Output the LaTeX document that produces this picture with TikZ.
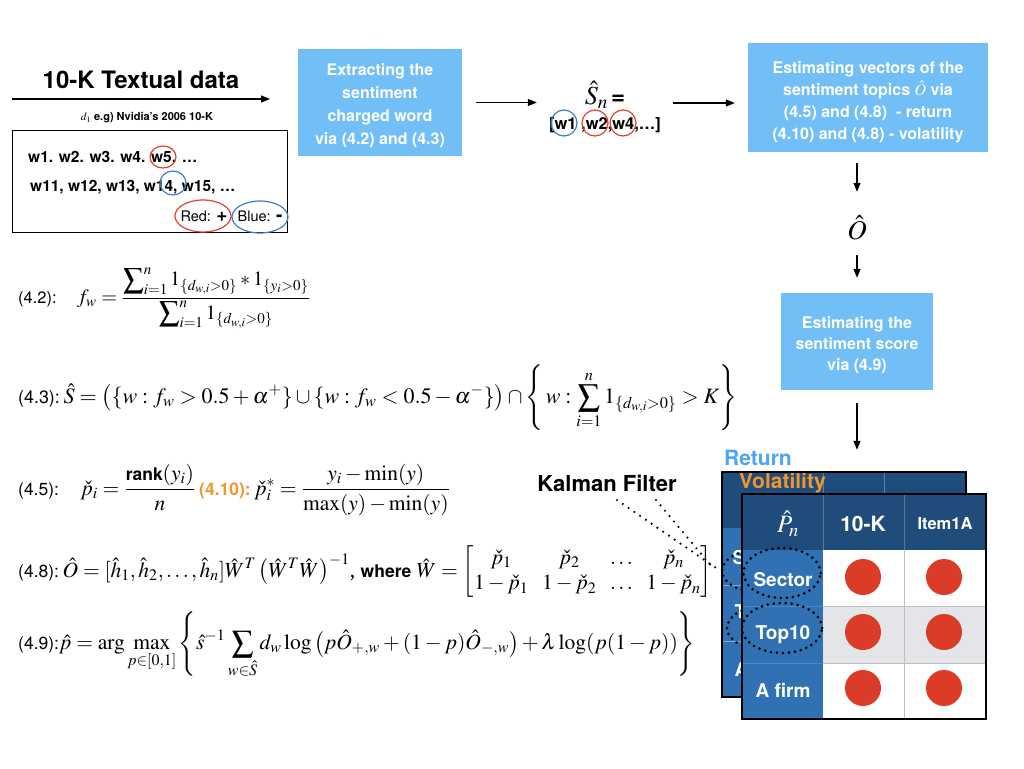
\documentclass[tikz,border=0pt]{standalone}
\usepackage{amsmath}
\usepackage{mathptmx}
\usepackage[no-math]{fontspec}
\setmainfont{Liberation Serif}
\setsansfont{TeX Gyre Heros}
\usetikzlibrary{arrows.meta,shapes.geometric}
\definecolor{boxblue}{RGB}{114,190,247}
\definecolor{navy}{RGB}{31,76,122}
\definecolor{midblue}{RGB}{47,113,178}
\definecolor{rowgray}{RGB}{228,229,233}
\definecolor{dotred}{RGB}{219,60,40}
\definecolor{cred}{RGB}{224,64,48}
\definecolor{cblue}{RGB}{58,124,196}
\definecolor{orng}{RGB}{240,150,46}
\definecolor{retblue}{RGB}{80,164,245}
\tikzset{
  arr/.style={-{Triangle[length=9pt,width=7pt]}, line width=1.2pt},
  sbox/.style={fill=boxblue, inner sep=0pt},
  btext/.style={text=white, align=center, inner sep=0pt},
  eqn/.style={anchor=west, inner sep=0pt},
  kdot/.style={line width=2.4pt, dash pattern=on 0pt off 7pt, line cap=round},
  edot/.style={draw, ellipse, line width=3pt, dash pattern=on 0pt off 6pt, line cap=round, inner sep=0pt},
  twhite/.style={text=white, font=\sffamily\bfseries\fontsize{19}{21}\selectfont},
  wtxt/.style={anchor=west, inner sep=0pt, font=\sffamily\bfseries\fontsize{15.5}{18}\selectfont},
}
\begin{document}
\begin{tikzpicture}[x=1pt,y=-1pt]
\useasboundingbox (0,0) rectangle (1024,768);

% ---- 10-K textual data ----
\node[font=\sffamily\bfseries\fontsize{24}{26}\selectfont, inner sep=0pt] (title) at (141,80) {10-K Textual data};
\coordinate (a0) at (12,99);
\coordinate (a1) at (270,99);
\draw[arr] (a0) -- (a1);
\node[font=\sffamily\bfseries\fontsize{11}{13}\selectfont, inner sep=0pt] (cap) at (147,118) {$d_1$ e.g) Nvidia’s 2006 10-K};
\node[draw, line width=0.8pt, minimum width=275pt, minimum height=102pt, inner sep=0pt] (doc) at (149.5,181.5) {};
\node[wtxt] (l1) at (28,157) {w1. w2. w3. w4. w5. …};
\node[wtxt] (l2) at (30,187) {w11, w12, w13, w14, w15, …};
\draw[cred, line width=1.2pt] (163,157) ellipse [x radius=13pt, y radius=11pt];
\draw[cblue, line width=1.2pt] (173,183) ellipse [x radius=13pt, y radius=12pt];
\node[font=\sffamily\fontsize{14.5}{16}\selectfont, inner sep=0pt] (red) at (204,216) {Red: {\bfseries\fontsize{19}{16}\selectfont +}};
\node[font=\sffamily\fontsize{14.5}{16}\selectfont, inner sep=0pt] (blue) at (260,216) {Blue: {\bfseries\fontsize{19}{16}\selectfont -}};
\draw[cred, line width=1.2pt] (203,216) ellipse [x radius=28pt, y radius=16pt];
\draw[cblue, line width=1.2pt] (260,217) ellipse [x radius=28pt, y radius=16pt];

% ---- flow boxes ----
\node[sbox, minimum width=164pt, minimum height=107pt] (box1) at (380,102.5) {};
\node[btext, font=\sffamily\bfseries\fontsize{16}{23}\selectfont] (box1t) at ([yshift=-3pt]box1.center) {Extracting the\\sentiment\\charged word\\via (4.2) and (4.3)};

\node[minimum width=120pt, minimum height=50pt, inner sep=0pt] (sn) at (605,103) {};
\node[inner sep=0pt] (snhat) at (605,95) {{\fontsize{26}{28}\selectfont$\hat{S}_n$}\,\,{\sffamily\bfseries\fontsize{24}{22}\selectfont =}};
\node[inner sep=0pt, font=\sffamily\bfseries\fontsize{16.5}{18}\selectfont] (snlist) at (605,125) {[w1 ,w2,w4,…]};
\draw[cblue, line width=1.2pt] (564,123) circle[radius=13pt];
\draw[cred, line width=1.2pt] (595,123) circle[radius=13pt];
\draw[cred, line width=1.2pt] (623,123) circle[radius=13pt];

\node[sbox, minimum width=240pt, minimum height=109pt] (box2) at (868,97.5) {};
\node[btext, font=\sffamily\bfseries\fontsize{16}{22}\selectfont] (box2t) at ([yshift=-4.5pt]box2.center) {Estimating vectors of the\\sentiment topics $\hat{O}$ via\\(4.5) and (4.8) \ - return\\(4.10) and (4.8) - volatility};

\node[minimum height=50pt, inner sep=0pt] (ohat) at (857,228) {\fontsize{27}{29}\selectfont$\hat{O}$};

\node[sbox, minimum width=152pt, minimum height=97pt] (box3) at (857,341.5) {};
\node[btext, font=\sffamily\bfseries\fontsize{16}{21}\selectfont] (box3t) at ([yshift=-3.5pt]box3.center) {Estimating the\\sentiment score\\via (4.9)};

\node[minimum width=244pt, minimum height=225pt, inner sep=0pt] (back) at (844,584.5) {};

\draw[arr, shorten <=14pt, shorten >=8pt] (box1.east) -- (box1.east -| sn.west);
\draw[arr, shorten <=8pt, shorten >=13pt] (sn.east) -- (sn.east -| box2.west);
\draw[arr, shorten <=11pt, shorten >=11pt] (ohat |- box2.south) -- (ohat.north);
\draw[arr, shorten <=2pt, shorten >=15pt] (ohat.south) -- (ohat |- box3.north);
\draw[arr, shorten <=13pt, shorten >=22pt] (box3.south) -- (box3.south |- back.north);

% ---- equations ----
\node[eqn] (e42) at (18,298) {\resizebox{292pt}{!}{\fontsize{16}{19}\selectfont\textsf{\fontsize{13}{15}\selectfont(4.2):}\quad$\displaystyle f_w = \frac{\displaystyle\sum\nolimits_{i=1}^{n} 1_{\{d_{w,i}>0\}} * 1_{\{y_i>0\}}}{\displaystyle\sum\nolimits_{i=1}^{n} 1_{\{d_{w,i}>0\}}}$}};

\node[eqn] (e43) at (18,398) {\resizebox{719pt}{!}{\fontsize{16}{19}\selectfont\textsf{\fontsize{13}{15}\selectfont(4.3):}\,$\displaystyle \hat{S} = \big(\{w : f_w > 0.5+\alpha^{+}\} \cup \{w : f_w < 0.5-\alpha^{-}\}\big) \cap \left\{\, w : \sum_{i=1}^{n} 1_{\{d_{w,i}>0\}} > K \right\}$}};

\node[eqn] (e45) at (18,490) {\resizebox{432pt}{!}{\fontsize{16}{19}\selectfont\textsf{\fontsize{13}{15}\selectfont(4.5):}\quad$\displaystyle \check{p}_i = \frac{\text{\sffamily\bfseries\fontsize{13}{15}\selectfont rank}(y_i)}{n}$\,{\color{orng}\sffamily\bfseries\fontsize{13}{15}\selectfont(4.10):}\,$\displaystyle \check{p}_i^{*} = \frac{y_i - \min(y)}{\max(y)-\min(y)}$}};

\node[eqn] (e48) at (18,572) {\resizebox{694pt}{!}{\fontsize{16}{19}\selectfont\textsf{\fontsize{13}{15}\selectfont(4.8):}\,$\displaystyle \hat{O} = [\hat{h}_1, \hat{h}_2, \ldots, \hat{h}_n]\hat{W}^{T}\left(\hat{W}^{T}\hat{W}\right)^{-1}$,\ {\sffamily\bfseries\fontsize{13}{15}\selectfont where} $\displaystyle \hat{W} = \begin{bmatrix} \check{p}_1 & \check{p}_2 & \ldots & \check{p}_n \\ 1-\check{p}_1 & 1-\check{p}_2 & \ldots & 1-\check{p}_n\end{bmatrix}$}};

\node[eqn] (e49) at (18,645) {\resizebox{677pt}{!}{\fontsize{16}{19}\selectfont\textsf{\fontsize{13}{15}\selectfont(4.9):}$\displaystyle \hat{p} = \arg\max_{p\in[0,1]} \left\{ \hat{s}^{-1} \sum_{w\in\hat{S}} d_w \log\left(p\hat{O}_{+,w} + (1-p)\hat{O}_{-,w}\right) + \lambda \log(p(1-p)) \right\}$}};

% ---- back table (Return / Volatility) ----
\node[font=\sffamily\bfseries\fontsize{21}{23}\selectfont, text=retblue, anchor=west, inner sep=0pt] (ret) at (724,458) {Return};
\fill[midblue] (722,472) rectangle (966,697);
\fill[navy] (722,472) rectangle (966,528);
\draw[midblue!60!white, line width=0.6pt] (722,585) -- (966,585) (722,641) -- (966,641);
\draw[navy!70!white, line width=0.6pt] (823,472) -- (823,528) (884,472) -- (884,528);
\node[font=\sffamily\bfseries\fontsize{21}{23}\selectfont, text=orng, anchor=west, inner sep=0pt] (vol) at (739,483) {Volatility};
\node[twhite] (bs) at (762,558) {Sector};
\node[twhite] (bt) at (762,614) {Top10};
\node[twhite] (ba) at (762,669) {A firm};
\node[edot, minimum width=72pt, minimum height=42pt] (bsec) at (758,571) {};
\node[edot, minimum width=76pt, minimum height=44pt] (btop) at (765,628) {};
\node[draw, line width=2pt, minimum width=244pt, minimum height=225pt, inner sep=0pt] at (back) {};

% ---- Kalman filter ----
\node[font=\sffamily\bfseries\fontsize{22}{24}\selectfont, inner sep=0pt] (kal) at (607,483) {Kalman Filter};
\coordinate (ka) at (617,500);
\coordinate (kb) at (656,500);
\coordinate (kbend) at (713,568);
\draw[kdot] (ka) -- (bsec.west);
\draw[kdot] (kb) -- (kbend);

% ---- front table ----
\fill[white] (742,494) rectangle (986,719);
\fill[navy] (742,494) rectangle (986,550);
\fill[midblue] (742,550) rectangle (823,719);
\fill[rowgray] (823,606) rectangle (986,663);
\draw[gray!50, line width=0.8pt] (904,550) -- (904,719) (823,606) -- (986,606) (823,663) -- (986,663);
\draw[navy!75!white, line width=0.6pt] (823,494) -- (823,550) (904,494) -- (904,550);
\draw[midblue!85!white, line width=0.6pt] (742,606) -- (823,606) (742,663) -- (823,663);
\node[text=white, inner sep=0pt] (ph) at (788,524) {\fontsize{25}{27}\selectfont$\hat{P}_n$};
\node[twhite, font=\sffamily\bfseries\fontsize{21}{23}\selectfont] (tk) at (863,524) {10-K};
\node[twhite, font=\sffamily\bfseries\fontsize{16.5}{18}\selectfont] (ti) at (945,524) {Item1A};
\node[twhite] (fs) at (783,580) {Sector};
\node[twhite] (ft) at (783,635) {Top10};
\node[twhite] (fa) at (783,690) {A firm};
\foreach \cx in {863,944} {
  \foreach \cy in {577,632,688} {
    \fill[dotred] (\cx,\cy) circle[radius=18pt];
  }
}
\node[edot, minimum width=77pt, minimum height=50pt] (fsec) at (782,573) {};
\node[edot, minimum width=80pt, minimum height=50pt] (ftop) at (782,628) {};
\node[draw, line width=2.2pt, minimum width=244pt, minimum height=225pt, inner sep=0pt] (front) at (864,606.5) {};
\end{tikzpicture}
\end{document}
